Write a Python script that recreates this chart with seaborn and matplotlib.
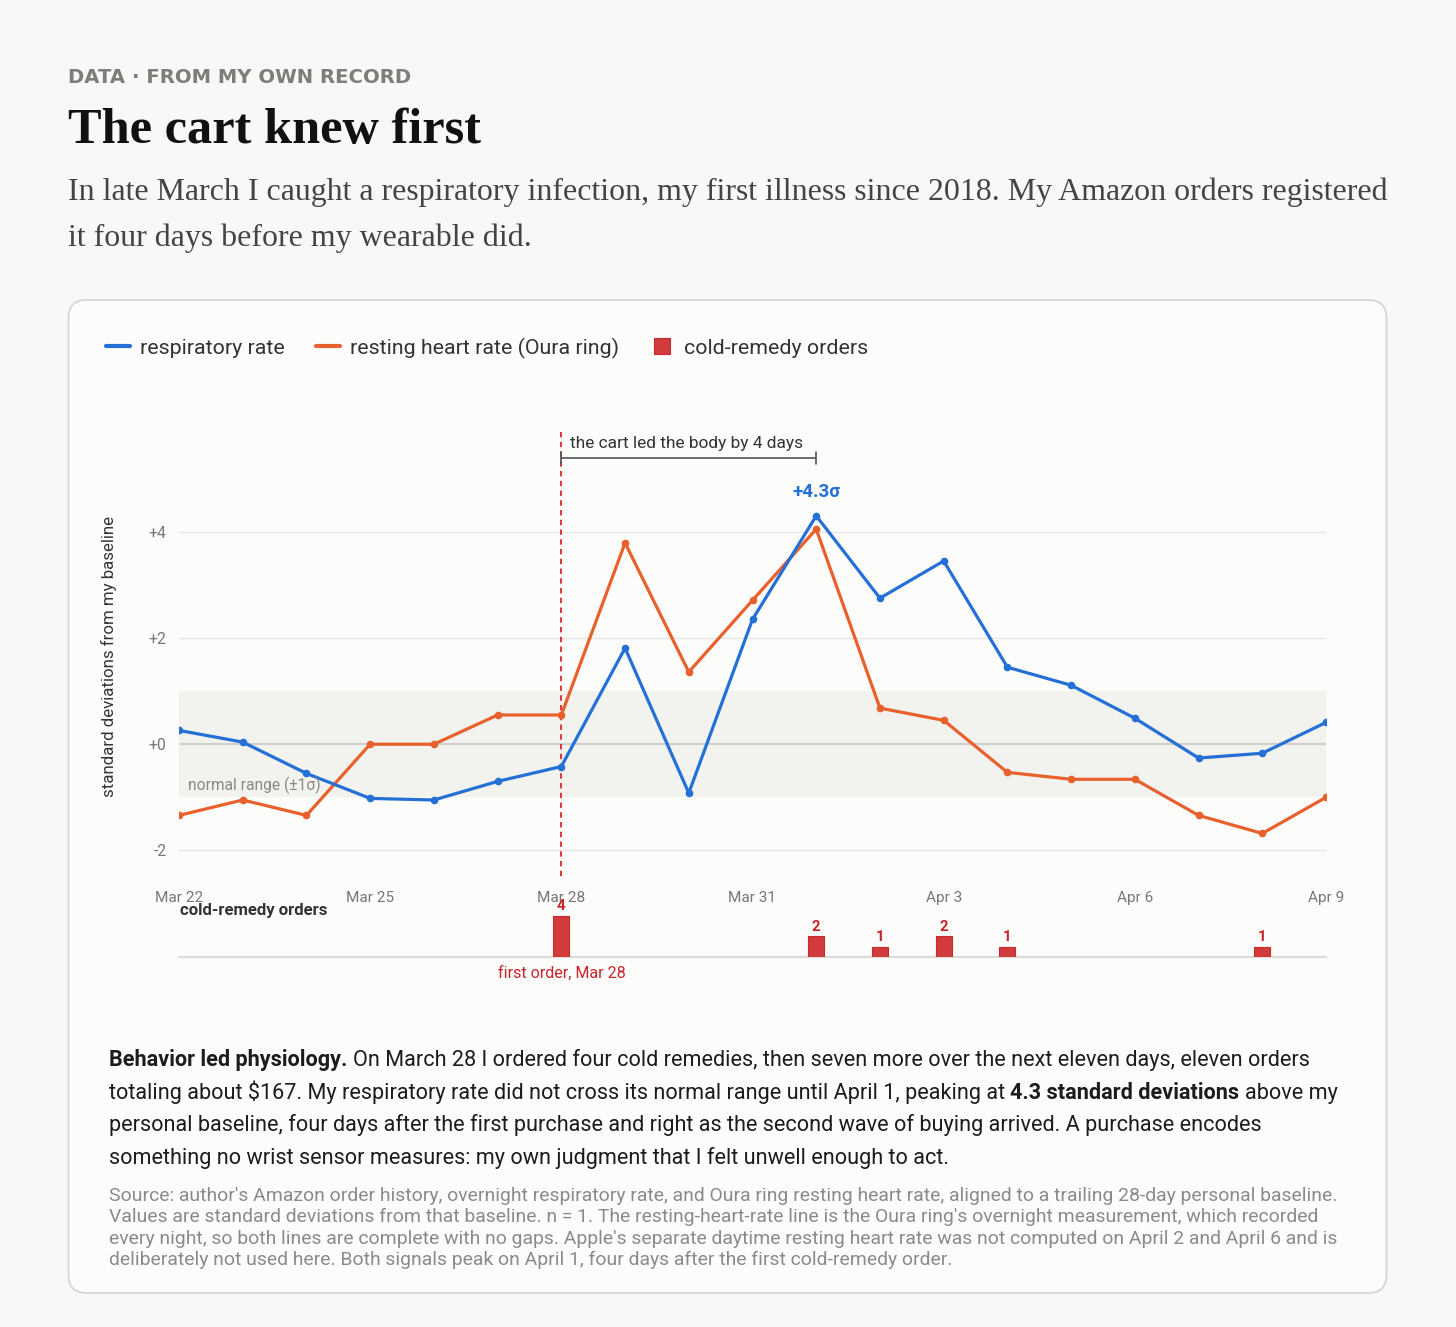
import numpy as np
import pandas as pd
import matplotlib
matplotlib.use("Agg")
import matplotlib.pyplot as plt
import seaborn as sns
from matplotlib.patches import FancyBboxPatch
from matplotlib.lines import Line2D
from matplotlib.transforms import IdentityTransform

# ---------------- data ----------------
day_labels = ["Mar 22", "Mar 23", "Mar 24", "Mar 25", "Mar 26", "Mar 27", "Mar 28",
              "Mar 29", "Mar 30", "Mar 31", "Apr 1", "Apr 2", "Apr 3", "Apr 4",
              "Apr 5", "Apr 6", "Apr 7", "Apr 8", "Apr 9"]
resp_rate = [0.26, 0.04, -0.55, -1.02, -1.05, -0.70, -0.42, 1.81, -0.92, 2.35,
             4.30, 2.75, 3.45, 1.45, 1.11, 0.49, -0.26, -0.17, 0.41]
rest_hr = [-1.34, -1.05, -1.34, 0.0, 0.0, 0.55, 0.55, 3.79, 1.36, 2.71,
           4.05, 0.68, 0.45, -0.53, -0.66, -0.66, -1.34, -1.68, -1.00]
order_days = ["Mar 28", "Apr 1", "Apr 2", "Apr 3", "Apr 4", "Apr 8"]
order_counts = [4, 2, 1, 2, 1, 1]
tick_labels = ["Mar 22", "Mar 25", "Mar 28", "Mar 31", "Apr 3", "Apr 6", "Apr 9"]
y_ticks = [-2, 0, 2, 4]
y_tick_labels = ["-2", "+0", "+2", "+4"]
series_names = ["respiratory rate", "resting heart rate (Oura ring)"]

BLUE = "#2470d6"
ORANGE = "#e8612c"
RED = "#d23b3b"
RED_TXT = "#c8242b"

# ---------------- figure ----------------
sns.set_style("white")
plt.rcParams["font.family"] = ["Roboto", "DejaVu Sans"]

W, H = 1456, 1327
fig = plt.figure(figsize=(W / 100, H / 100), dpi=100)
fig.patch.set_facecolor("#f8f8f6")
renderer = fig.canvas.get_renderer()


def fx(px):
    return px / W


def fy(py):
    return 1 - py / H


# card
card = FancyBboxPatch((68.5, H - 1293), 1318, 993,
                      boxstyle="round,pad=0,rounding_size=18",
                      transform=IdentityTransform(), facecolor="#fcfcfa",
                      edgecolor="#d6d6d2", linewidth=1.3, zorder=-10)
fig.add_artist(card)

# ---------------- main axes ----------------
ax = fig.add_axes([fx(179), fy(877), (1326 - 179) / W, (877 - 399) / H])
ax.set_facecolor("none")
idx = np.arange(len(day_labels))
df = pd.DataFrame({"day": idx, series_names[0]: resp_rate, series_names[1]: rest_hr})
long = df.melt(id_vars="day", var_name="series", value_name="sd")

ax.axhspan(-1, 1, color="#f2f2ee", zorder=0, lw=0)
for yv in [-2, 2, 4]:
    ax.axhline(yv, color="#e6e6e4", lw=1, zorder=0.5)
ax.axhline(0, color="#d0d0ce", lw=1.6, zorder=0.6)

sns.lineplot(data=long, x="day", y="sd", hue="series",
             palette={series_names[0]: BLUE, series_names[1]: ORANGE},
             hue_order=[series_names[1], series_names[0]],
             marker="o", markersize=5.5, markeredgewidth=0, linewidth=2.3,
             legend=False, ax=ax, zorder=3)

ax.set_xlim(0, len(day_labels) - 1)
ax.set_ylim(-2.5, 6.5)
ax.set_xticks([day_labels.index(t) for t in tick_labels])
ax.set_xticklabels(tick_labels)
ax.set_yticks(y_ticks)
ax.set_yticklabels(y_tick_labels)
ax.tick_params(axis="x", length=0, pad=10, labelsize=11.1, labelcolor="#777777")
ax.tick_params(axis="y", length=0, pad=9, labelsize=11.3, labelcolor="#777777")
ax.set_xlabel("")
ax.set_ylabel("standard deviations from my baseline", fontsize=12.2, color="#333333")
ax.yaxis.set_label_coords(-0.054, 0.462)
for s in ax.spines.values():
    s.set_visible(False)
ax.grid(False)

ax.text(0.14, -0.78, "normal range (±1σ)", fontsize=11.2, color="#888888", va="center")

first = day_labels.index("Mar 28")
peak = int(np.argmax(resp_rate))
ax.plot([first, first], [5.88, -2.5], ls=(0, (3, 2.4)), color="#d7282f", lw=1.3,
        clip_on=False, zorder=2)
# bracket
ax.plot([first, peak], [5.39, 5.39], color="#555555", lw=1.2, clip_on=False)
for xv in [first, peak]:
    ax.plot([xv, xv], [5.28, 5.50], color="#555555", lw=1.2, clip_on=False)
ax.text(first + 0.14, 5.67, "the cart led the body by 4 days", fontsize=12.5,
        color="#333333", va="center", ha="left")
ax.annotate(f"+{resp_rate[peak]:.1f}σ", (peak, resp_rate[peak]), xytext=(0, 11),
            textcoords="offset points", ha="center", va="bottom", fontsize=13.5,
            fontweight="bold", color=BLUE)

# ---------------- bar axes ----------------
bx = fig.add_axes([fx(179), fy(957), (1326 - 179) / W, 52 / H])
bx.set_facecolor("none")
order_x = [day_labels.index(d) for d in order_days]
sns.barplot(x=order_x, y=order_counts, native_scale=True, width=0.25,
            color=RED, saturation=1, edgecolor="#c42b2b", linewidth=0.8, ax=bx, zorder=3)
bx.set_xlim(0, len(day_labels) - 1)
bx.set_ylim(0, 5.07)
for p in bx.patches:
    p.set_joinstyle("round")
bx.bar_label(bx.containers[0], padding=2, color=RED_TXT, fontsize=10.8, fontweight="bold")
bx.axhline(0, color="#dcdcda", lw=1.6, clip_on=False, zorder=1)
bx.set_xticks([])
bx.set_yticks([])
bx.set_xlabel("")
bx.set_ylabel("")
for s in bx.spines.values():
    s.set_visible(False)

fig.text(fx(180), fy(910), "cold-remedy orders", fontsize=12.1, fontweight="bold",
         color="#333333", va="center", ha="left")
fig.text(fx(562), fy(973), "first order, Mar 28", fontsize=11.5, color=RED_TXT,
         va="center", ha="center")

# ---------------- legend ----------------
handles = [Line2D([0], [0], color=BLUE, lw=3, solid_capstyle="round"),
           Line2D([0], [0], color=ORANGE, lw=3, solid_capstyle="round"),
           Line2D([0], [0], color=RED, marker="s", markersize=11.5, lw=0,
                  markeredgecolor="#c42b2b", markeredgewidth=0.8)]
fig.legend(handles, series_names + ["cold-remedy orders"], loc="center left",
           bbox_to_anchor=(fx(106), fy(348)), ncol=3, frameon=False,
           fontsize=15.4, handlelength=1.12, handletextpad=0.47, columnspacing=1.45,
           borderpad=0, borderaxespad=0, labelcolor="#333333")


# ---------------- header / text ----------------
def fit_text(xpx, ypx, s, target_w, **kw):
    t = fig.text(fx(xpx), fy(ypx), s, fontsize=10, va="baseline", ha="left", **kw)
    w = t.get_window_extent(renderer).width
    t.set_fontsize(10 * target_w / w)
    return t


fit_text(68, 83, "DATA · FROM MY OWN RECORD", 344, family=["DejaVu Sans"],
         fontweight="bold", color="#7d7d7a")
fit_text(68, 143, "The cart knew first", 415, family=["Liberation Serif"],
         fontweight="bold", color="#111111")
sub_lines = ["In late March I caught a respiratory infection, my first illness since 2018. My Amazon orders registered",
             "it four days before my wearable did."]
t0 = fit_text(68, 200, sub_lines[0], 1319, family=["Liberation Serif"], color="#444444")
fig.text(fx(68), fy(246), sub_lines[1], fontsize=t0.get_fontsize(), va="baseline",
         family=["Liberation Serif"], color="#444444")


def text_w(s, size, weight="normal"):
    t = fig.text(0, 0, s, fontsize=size, fontweight=weight)
    w = t.get_window_extent(renderer).width
    t.remove()
    return w


def draw_runs(xpx, ypx, runs, size, color):
    sp = text_w("a a", size) - text_w("aa", size)
    x = xpx
    for s, wt in runs:
        lead = s.startswith(" ")
        trail = s.endswith(" ")
        s2 = s.strip()
        if lead:
            x += sp
        t = fig.text(fx(x), fy(ypx), s2, fontsize=size, fontweight=wt, color=color,
                     va="baseline", ha="left")
        x += t.get_window_extent(renderer).width
        if trail:
            x += sp
    return x - xpx


body = [
    [("Behavior led physiology.", "bold"), (" On March 28 I ordered four cold remedies, then seven more over the next eleven days, eleven orders", "normal")],
    [("totaling about $167. My respiratory rate did not cross its normal range until April 1, peaking at ", "normal"), ("4.3 standard deviations", "bold"), (" above my", "normal")],
    [("personal baseline, four days after the first purchase and right as the second wave of buying arrived. A purchase encodes", "normal")],
    [("something no wrist sensor measures: my own judgment that I felt unwell enough to act.", "normal")],
]
w1 = sum(text_w(s.strip(), 10, wt) for s, wt in body[0]) + (text_w("a a", 10) - text_w("aa", 10))
bsize = 10 * 1202 / w1
for i, line in enumerate(body):
    draw_runs(109, 1066 + 32.7 * i, line, bsize, "#1c1c1c")

foot = ["Source: author's Amazon order history, overnight respiratory rate, and Oura ring resting heart rate, aligned to a trailing 28-day personal baseline.",
        "Values are standard deviations from that baseline. n = 1. The resting-heart-rate line is the Oura ring's overnight measurement, which recorded",
        "every night, so both lines are complete with no gaps. Apple's separate daytime resting heart rate was not computed on April 2 and April 6 and is",
        "deliberately not used here. Both signals peak on April 1, four days after the first cold-remedy order."]
f0 = fit_text(109, 1201, foot[0], 1228, color="#8a8a88")
for i, s in enumerate(foot[1:], start=1):
    fig.text(fx(109), fy(1201 + 21.3 * i), s, fontsize=f0.get_fontsize(), color="#8a8a88",
             va="baseline", ha="left")

fig.savefig("out.png", dpi=100, facecolor=fig.get_facecolor())
